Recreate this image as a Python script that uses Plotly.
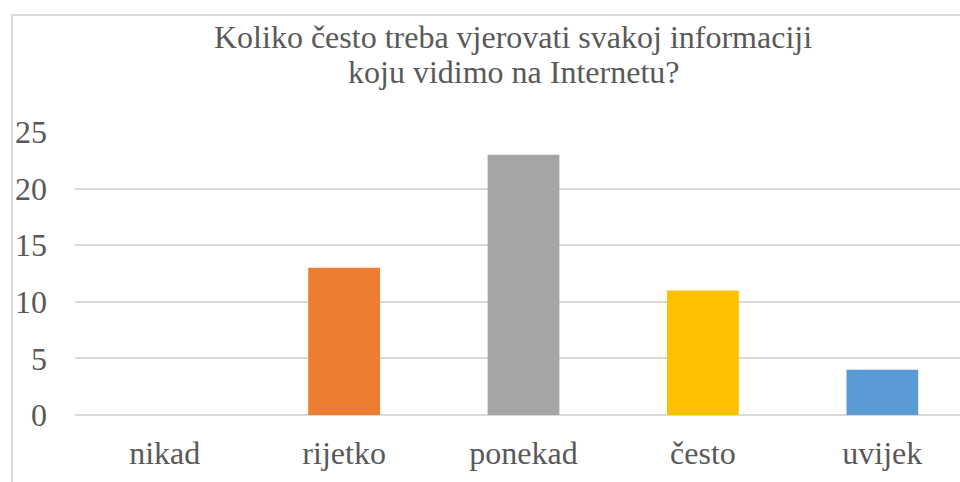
import plotly.graph_objects as go

# survey answers and how many picked each one
categories = ["nikad", "rijetko", "ponekad", "često", "uvijek"]
counts = [0, 13, 23, 11, 4]
colors = ["#4472C4", "#ED7D31", "#A5A5A5", "#FFC000", "#5B9BD5"]
y_ticks = [0, 5, 10, 15, 20, 25]
title_lines = ["Koliko često treba vjerovati svakoj informaciji", "koju vidimo na Internetu?"]

text_color = "#595959"
grid_color = "#D9D9D9"

# plot area in pixels (left, right, bottom, top) - used for paper coords
px_left, px_right, px_bottom, px_top = 75, 960, 415.5, 131.5
plot_w = px_right - px_left
plot_h = px_bottom - px_top

def paper_x(px):
    return (px - px_left) / plot_w

def paper_y(py):
    return (px_bottom - py) / plot_h

fig = go.Figure()

fig.add_trace(
    go.Bar(
        x=categories,
        y=counts,
        marker=dict(color=colors, line=dict(width=0)),
        width=0.4,
        showlegend=False
    ))

# two-line title, centred like the Excel one
title_annotations = []
for line, py in zip(title_lines, [36, 71]):
    title_annotations.append(dict(
        text=line,
        xref="paper", yref="paper",
        x=paper_x(513), y=paper_y(py),
        xanchor="center", yanchor="middle",
        showarrow=False,
        font=dict(size=32, color=text_color)
    ))

fig.update_layout(
    width=960,
    height=482,
    margin=dict(l=px_left, r=960 - px_right, t=px_top, b=482 - px_bottom),
    paper_bgcolor="white",
    plot_bgcolor="white",
    font=dict(family="Liberation Serif, Times New Roman, serif", size=32, color=text_color),
    annotations=title_annotations,
    xaxis=dict(
        range=[-0.5, 4.433],
        showgrid=False,
        showline=False,
        ticks="",
        ticklabelstandoff=16
    ),
    yaxis=dict(
        range=[0, 25],
        tickvals=y_ticks,
        showgrid=True,
        gridcolor=grid_color,
        gridwidth=1.5,
        zeroline=True,
        zerolinecolor=grid_color,
        zerolinewidth=1.5,
        showline=False,
        ticks="",
        ticklabelstandoff=27
    ),
    shapes=[dict(
        type="rect",
        xref="paper", yref="paper",
        x0=paper_x(12), x1=1.2,
        y0=-0.6, y1=paper_y(14),
        line=dict(color=grid_color, width=2),
        fillcolor="rgba(0,0,0,0)",
        layer="below"
    )]
)

# the page's default body margin shifts the chart, drop it
fig.write_html("out.html", config={"displayModeBar": False},
               post_script="document.body.style.margin='0';")
